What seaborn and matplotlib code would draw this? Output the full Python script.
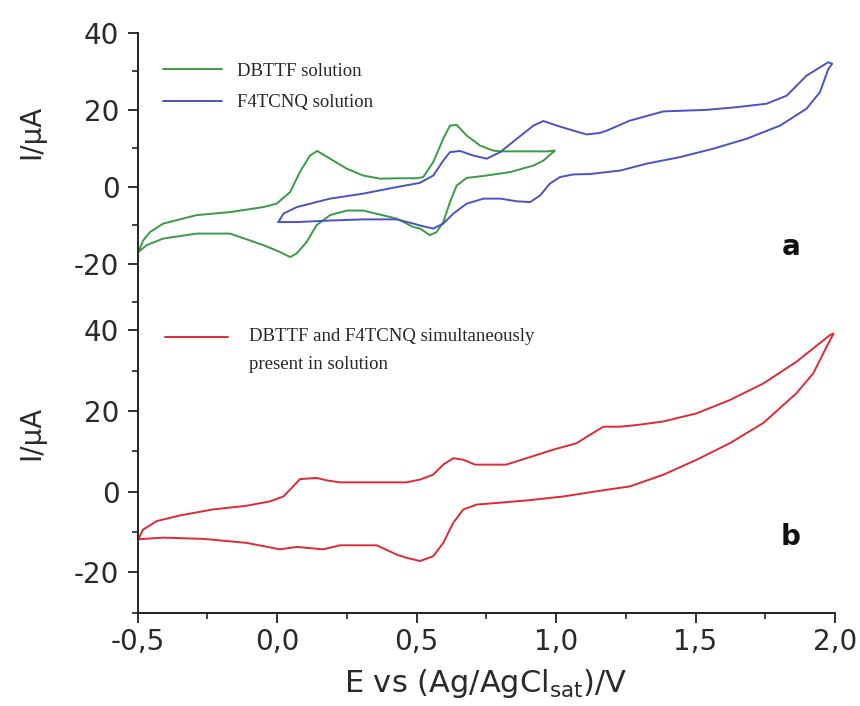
import numpy as np
import matplotlib
matplotlib.use("Agg")
import matplotlib.pyplot as plt
import seaborn as sns
from matplotlib.ticker import MultipleLocator, FuncFormatter
from matplotlib.legend_handler import HandlerLine2D

# ---------------- data ----------------
dbttf_E = [-0.497, -0.479, -0.455, -0.408, -0.288, -0.168, -0.049, -0.001, 0.047, 0.082, 0.118,
           0.144, 0.19, 0.25, 0.309, 0.369, 0.44, 0.50, 0.524, 0.56, 0.596, 0.62, 0.644, 0.68,
           0.728, 0.775, 0.80, 0.967, 0.996,
           0.955, 0.919, 0.835, 0.74, 0.68, 0.644, 0.62, 0.596, 0.572, 0.548, 0.513, 0.489,
           0.429, 0.309, 0.25, 0.19, 0.142, 0.106, 0.07, 0.047, 0.011, -0.049, -0.168, -0.288,
           -0.408, -0.467, -0.497]
dbttf_I = [-17.0, -13.9, -11.8, -9.6, -7.4, -6.6, -5.3, -4.4, -1.4, 3.8, 8.1,
           9.3, 7.3, 4.7, 2.9, 2.1, 2.2, 2.2, 2.5, 6.4, 12.5, 15.9, 16.1, 13.3,
           10.7, 9.4, 9.2, 9.2, 9.4,
           6.8, 5.5, 3.8, 2.8, 2.3, 0.3, -4.0, -9.2, -11.8, -12.6, -10.9, -10.5,
           -8.3, -6.2, -6.2, -7.4, -10.0, -14.4, -17.4, -18.3, -17.0, -15.2, -12.2, -12.2,
           -13.5, -15.2, -17.0]

f4tcnq_E = [0.005, 0.023, 0.071, 0.19, 0.309, 0.429, 0.512, 0.56, 0.596, 0.62, 0.656, 0.704,
            0.752, 0.80, 0.86, 0.919, 0.955, 1.003, 1.062, 1.11, 1.158, 1.182, 1.265, 1.385,
            1.54, 1.648, 1.755, 1.827, 1.898, 1.976, 1.99,
            1.976, 1.946, 1.898, 1.803, 1.684, 1.564, 1.444, 1.325, 1.23, 1.122, 1.062, 1.014,
            0.978, 0.943, 0.907, 0.86, 0.80, 0.74, 0.68, 0.632, 0.596, 0.56, 0.513, 0.489,
            0.429, 0.309, 0.19, 0.071, 0.005]
f4tcnq_I = [-9.2, -7.0, -5.3, -3.1, -1.8, -0.1, 1.0, 2.9, 6.8, 9.0, 9.3, 8.1,
            7.3, 9.0, 12.5, 15.9, 17.1, 15.9, 14.6, 13.6, 14.0, 14.6, 17.2, 19.6,
            20.0, 20.7, 21.6, 23.7, 28.9, 32.4, 32.0,
            30.6, 24.6, 20.3, 15.9, 12.5, 9.9, 7.7, 6.0, 4.2, 3.3, 3.2, 2.5,
            0.8, -2.3, -4.0, -3.8, -3.1, -3.1, -4.4, -7.0, -9.6, -10.9, -10.1, -9.6,
            -8.5, -8.5, -8.8, -9.2, -9.2]

mix_E = [-0.497, -0.48, -0.431, -0.348, -0.229, -0.109, -0.025, 0.023, 0.058, 0.082, 0.142,
         0.178, 0.226, 0.463, 0.513, 0.56, 0.596, 0.632, 0.668, 0.71, 0.822, 0.895, 0.99,
         1.074, 1.122, 1.17, 1.229, 1.289, 1.385, 1.504, 1.623, 1.743, 1.862, 1.982, 1.995,
         1.97, 1.922, 1.862, 1.743, 1.623, 1.504, 1.385, 1.265, 1.146, 1.026, 0.907, 0.788,
         0.716, 0.668, 0.632, 0.596, 0.56, 0.513, 0.465, 0.429, 0.357, 0.226, 0.166, 0.071,
         0.011, -0.109, -0.264, -0.408, -0.497]
mix_I = [-11.8, -9.4, -7.3, -5.9, -4.4, -3.5, -2.4, -1.2, 1.3, 3.1, 3.4,
         2.8, 2.3, 2.3, 3.0, 4.2, 6.7, 8.3, 7.9, 6.7, 6.7, 8.3, 10.4,
         12.0, 14.1, 16.1, 16.1, 16.5, 17.4, 19.4, 22.7, 26.8, 32.2, 38.8, 39.2,
         35.9, 29.3, 24.4, 17.0, 12.0, 7.9, 4.2, 1.3, 0.1, -1.2, -2.1, -2.8,
         -3.2, -4.4, -7.7, -12.7, -16.0, -17.2, -16.4, -15.6, -13.3, -13.3, -14.3, -13.7,
         -14.3, -12.7, -11.7, -11.4, -11.8]

label_dbttf = "DBTTF solution"
label_f4 = "F4TCNQ solution"
label_mix = "DBTTF and F4TCNQ simultaneously\npresent in solution"
x_ticks = [-0.5, 0.0, 0.5, 1.0, 1.5, 2.0]
y_ticks = [-20, 0, 20, 40]

# ---------------- style ----------------
sns.set_theme(style="white")
plt.rcParams["font.family"] = ["DejaVu Sans"]
plt.rcParams["axes.unicode_minus"] = False
SERIF = ["Liberation Serif", "DejaVu Serif"]

GREEN = "#3a9a45"
BLUE = "#4b52c4"
RED = "#dd2a35"
LW = 1.4
TXT = "#2a2a2a"

fig = plt.figure(figsize=(8.6, 7.06), dpi=100)
W, H = 860.0, 706.0
left, right = 137.5, 835.0
ax1 = fig.add_axes([left / W, 1 - 302 / H, (right - left) / W, (302 - 33) / H])
ax2 = fig.add_axes([left / W, 1 - 612.7 / H, (right - left) / W, (612.7 - 302) / H])

sns.lineplot(x=dbttf_E, y=dbttf_I, sort=False, estimator=None, ax=ax1,
             color=GREEN, lw=LW, label=label_dbttf, legend=False)
sns.lineplot(x=f4tcnq_E, y=f4tcnq_I, sort=False, estimator=None, ax=ax1,
             color=BLUE, lw=LW, label=label_f4, legend=False)
sns.lineplot(x=mix_E, y=mix_I, sort=False, estimator=None, ax=ax2,
             color=RED, lw=LW, label=label_mix, legend=False)

TICKFS = 20
for ax in (ax1, ax2):
    ax.set_xlim(-0.5, 2.0)
    for s in ("top", "right"):
        ax.spines[s].set_visible(False)
    ax.spines["left"].set_linewidth(1.4)
    ax.spines["left"].set_color("#222222")
    ax.yaxis.set_major_locator(MultipleLocator(20))
    ax.yaxis.set_minor_locator(MultipleLocator(10))
    ax.yaxis.set_major_formatter(FuncFormatter(lambda v, p: f"{v:.0f}"))
    ax.tick_params(axis="y", which="major", direction="out", length=7, width=1.3,
                   color="#222222", labelsize=TICKFS, pad=6, left=True, labelcolor=TXT)
    ax.tick_params(axis="y", which="minor", direction="out", length=4, width=1.2,
                   color="#222222", left=True)
    ax.set_facecolor("white")
    ax.grid(False)
    ax.set_ylabel("I/\u03bcA", fontsize=20, color=TXT, va="center")
    ax.set_xlabel("")

ax1.set_ylim(-30, 40)
ax1.spines["bottom"].set_visible(False)
ax1.tick_params(axis="x", which="both", bottom=False, labelbottom=False)
ax1.yaxis.set_label_coords(-0.152, 0.632)

ax2.set_ylim(-30, 47)
ax2.spines["bottom"].set_linewidth(1.4)
ax2.spines["bottom"].set_color("#222222")
ax2.set_xticks(x_ticks)
ax2.xaxis.set_minor_locator(MultipleLocator(0.25))
ax2.xaxis.set_major_formatter(FuncFormatter(lambda v, p: f"{v:.1f}".replace(".", ",")))
ax2.tick_params(axis="x", which="major", direction="out", length=7, width=1.3,
                color="#222222", labelsize=TICKFS, pad=4, bottom=True, labelcolor=TXT)
ax2.tick_params(axis="x", which="minor", direction="out", length=4, width=1.2,
                color="#222222", bottom=True)
ax2.set_yticks(y_ticks)
ax2.yaxis.set_minor_locator(MultipleLocator(10))
ax2.yaxis.set_label_coords(-0.152, 0.58)
ax2.set_xlabel("E vs (Ag/AgCl$_\\mathregular{sat}$)/V", fontsize=22, color=TXT, labelpad=8)

# ---------------- legends ----------------
LEGFS = 13.5
h1, l1 = ax1.get_legend_handles_labels()
ax1.legend(h1, l1, loc="upper left", bbox_to_anchor=(0.0366, 0.889), frameon=False,
           borderpad=0, borderaxespad=0, handlelength=3.15, handletextpad=0.8,
           labelspacing=0.76, prop={"family": SERIF, "size": LEGFS})


class FirstLineHandler(HandlerLine2D):
    def __init__(self, shift, **kw):
        super().__init__(**kw)
        self.shift = shift

    def create_artists(self, legend, orig_handle, xdescent, ydescent, width, height,
                       fontsize, trans):
        arts = super().create_artists(legend, orig_handle, xdescent, ydescent, width,
                                      height, fontsize, trans)
        for a in arts:
            a.set_ydata(np.asarray(a.get_ydata(), float) + self.shift)
        return arts


h2, l2 = ax2.get_legend_handles_labels()
leg2 = ax2.legend(h2, l2, loc="upper left", bbox_to_anchor=(0.0394, 0.917), frameon=False,
                  borderpad=0, borderaxespad=0, handlelength=3.36, handletextpad=1.12,
                  prop={"family": SERIF, "size": LEGFS},
                  handler_map={h2[0]: FirstLineHandler(9.7)})
for t in leg2.get_texts():
    t.set_linespacing(1.9)

# ---------------- panel letters ----------------
ax1.text(0.937, 0.175, "a", transform=ax1.transAxes, ha="center", va="baseline",
         fontsize=20, fontweight="bold", color="#111111")
ax2.text(0.937, 0.218, "b", transform=ax2.transAxes, ha="center", va="baseline",
         fontsize=20, fontweight="bold", color="#111111")

fig.savefig("out.png", dpi=100, facecolor="white")
